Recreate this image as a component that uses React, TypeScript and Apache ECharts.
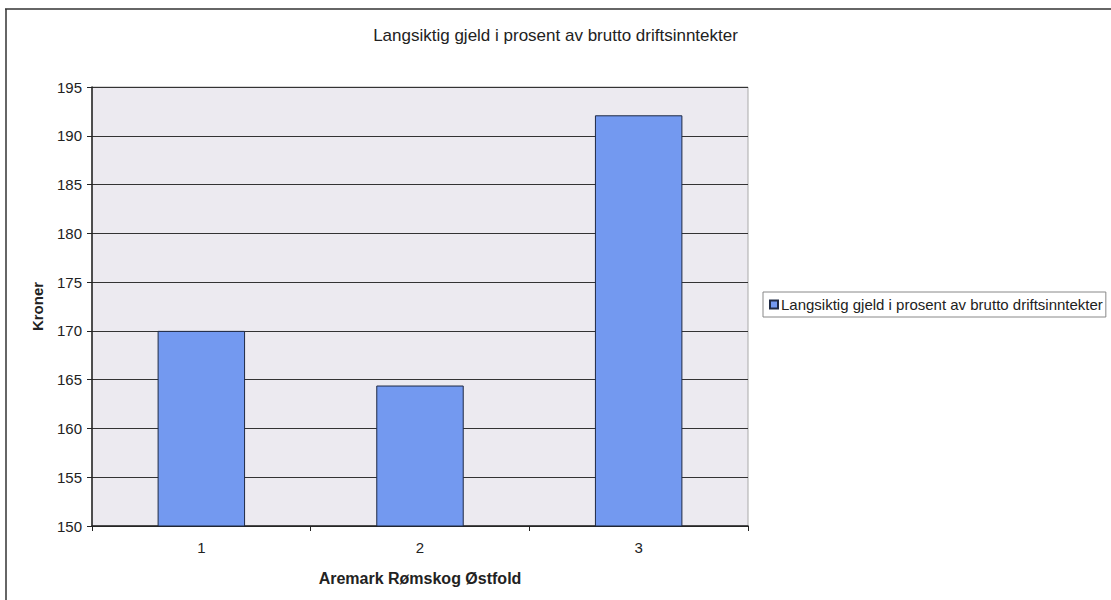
import React, { useEffect, useRef } from "react";
import * as echarts from "echarts";

const titleText = "Langsiktig gjeld i prosent av brutto driftsinntekter";
const seriesName = "Langsiktig gjeld i prosent av brutto driftsinntekter";
const categories = ["1", "2", "3"];
const values = [170.0, 164.4, 192.1];
const xAxisName = "Aremark Rømskog Østfold";
const yAxisName = "Kroner";
const yMin = 150;
const yMax = 195;
const yStep = 5;

export default function App() {
  const ref = useRef<HTMLDivElement>(null);
  useEffect(() => {
    if (!ref.current) return;
    const chart = echarts.init(ref.current, undefined, { renderer: "svg" });
    const font = "'Liberation Sans', Arial, sans-serif";
    chart.setOption({
      animation: false,
      backgroundColor: "#ffffff",
      textStyle: { fontFamily: font },
      title: {
        text: titleText,
        left: "center",
        top: 22,
        textStyle: { fontSize: 17, fontWeight: "normal", color: "#222", fontFamily: font },
      },
      graphic: [
        { type: "line", shape: { x1: 5, y1: 9, x2: 1111, y2: 9 }, style: { stroke: "#333", lineWidth: 1.5 } },
        { type: "line", shape: { x1: 6, y1: 9, x2: 6, y2: 600 }, style: { stroke: "#333", lineWidth: 1.5 } },
      ],
      legend: {
        left: 763,
        top: 292,
        orient: "vertical",
        icon: "rect",
        itemWidth: 8,
        itemHeight: 8,
        itemGap: 4,
        padding: [5, 3, 5, 6],
        borderColor: "#888",
        borderWidth: 1,
        textStyle: { fontSize: 15, color: "#222", fontFamily: font, padding: [0, 0, 0, -2] },
        data: [seriesName],
      },
      grid: {
        left: 92,
        right: 363,
        top: 87,
        bottom: 74,
        show: true,
        backgroundColor: "#ECEAF0",
        borderColor: "#aaa",
        borderWidth: 1,
      },
      xAxis: {
        type: "category",
        data: categories,
        boundaryGap: true,
        axisLine: { show: true, lineStyle: { color: "#222", width: 1.5 } },
        axisTick: { show: true, length: 5, lineStyle: { color: "#222" } },
        axisLabel: { fontSize: 15, color: "#222", margin: 14, fontFamily: font },
        name: xAxisName,
        nameLocation: "middle",
        nameGap: 44,
        nameTextStyle: { fontSize: 16, fontWeight: "bold", color: "#222", fontFamily: font },
      },
      yAxis: {
        type: "value",
        min: yMin,
        max: yMax,
        interval: yStep,
        axisLine: { show: true, lineStyle: { color: "#222", width: 1.5 } },
        axisTick: { show: true, length: 5, lineStyle: { color: "#222" } },
        axisLabel: { fontSize: 15, color: "#222", margin: 10, fontFamily: font },
        splitLine: { show: true, lineStyle: { color: "#333", width: 1 } },
        name: yAxisName,
        nameLocation: "middle",
        nameGap: 47,
        nameRotate: 90,
        nameTextStyle: { fontSize: 15, fontWeight: "bold", color: "#222", fontFamily: font },
      },
      series: [
        {
          name: seriesName,
          type: "bar",
          data: values,
          barWidth: "40%",
          itemStyle: { color: "#7399F0", borderColor: "#1F2A44", borderWidth: 1 },
        },
      ],
    });
    return () => chart.dispose();
  }, []);
  return (
    <div
      ref={ref}
      style={{ position: "fixed", left: 0, top: 0, width: 1111, height: 600 }}
    />
  );
}
